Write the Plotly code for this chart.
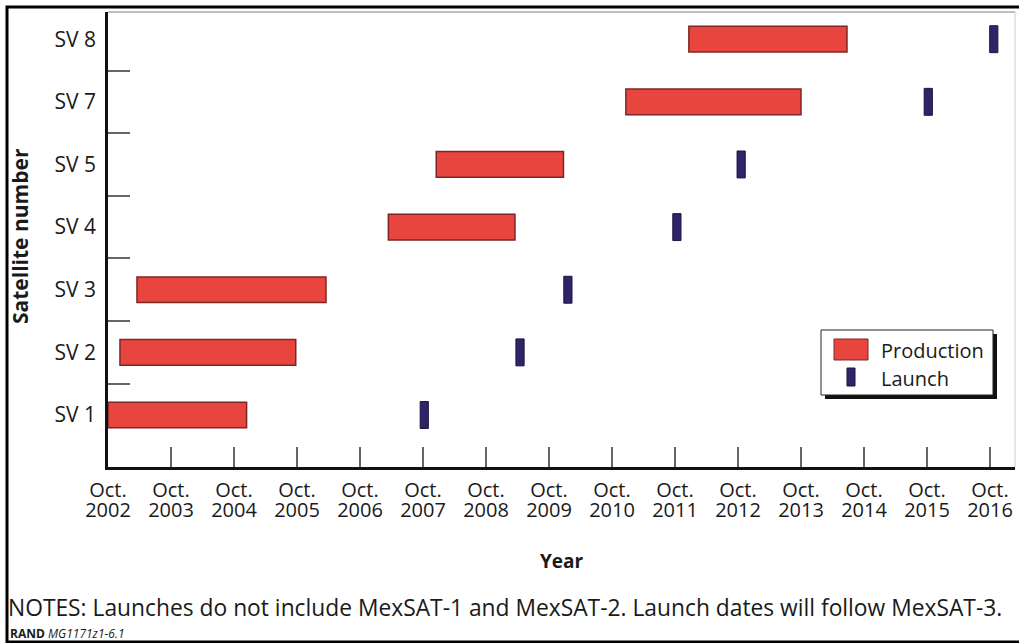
import plotly.graph_objects as go

# ---- data (years as decimal; Oct. = .75) ----
satellites = ["SV 1", "SV 2", "SV 3", "SV 4", "SV 5", "SV 7", "SV 8"]
prod_start = [2002.75, 2002.94, 2003.21, 2007.20, 2007.96, 2010.97, 2011.97]
prod_end = [2004.95, 2005.73, 2006.21, 2009.21, 2009.98, 2013.75, 2014.48]
launch = [2007.77, 2009.29, 2010.05, 2011.78, 2012.80, 2015.77, 2016.81]
tick_years = list(range(2002, 2017))
tick_month = "Oct."

FONT = "Open Sans"
TXT = "#1a1a1a"

ypos = list(range(len(satellites)))
tickx = [y + 0.75 for y in tick_years]
mid_ticks = [p + 0.5 for p in ypos[:-1]]

W, H = 1019, 643
L, R, T, B = 108, 4, 12, 176
pw, ph = W - L - R, H - T - B


def px(xp):
    return (xp - L) / pw


def py(yp):
    return (H - B - yp) / ph


launch_half = 0.065

fig = go.Figure()
fig.add_trace(go.Bar(
    y=ypos, base=prod_start,
    x=[e - s for s, e in zip(prod_start, prod_end)],
    orientation="h", width=0.41,
    marker=dict(color="#e8453e", line=dict(color="#7d2626", width=1.5)),
    name="Production", showlegend=False, hoverinfo="skip"))
fig.add_trace(go.Bar(
    y=ypos, base=[v - launch_half for v in launch],
    x=[2 * launch_half] * len(launch),
    orientation="h", width=0.43,
    marker=dict(color="#2f2468", line=dict(color="#1b1540", width=1)),
    name="Launch", showlegend=False, hoverinfo="skip"))
# invisible trace for overlay axes
fig.add_trace(go.Scatter(x=[None], y=[None], xaxis="x2", yaxis="y2",
                         showlegend=False, hoverinfo="skip"))

xr = [2002.75, 2002.75 + pw / 63.0]
yr = [-0.83, 6.434]

fig.update_layout(
    width=W, height=H,
    margin=dict(l=L, r=R, t=T, b=B),
    paper_bgcolor="white", plot_bgcolor="white",
    font=dict(family=FONT, size=20, color=TXT),
    barmode="overlay",
    xaxis=dict(range=xr, tickvals=tickx, ticktext=[tick_month] * len(tickx),
               ticks="inside", ticklen=20, tickwidth=1.5, tickcolor="#666",
               showline=True, linecolor="#111", linewidth=2.5,
               showgrid=False, zeroline=False, ticklabelstandoff=3,
               tickfont=dict(size=20, color=TXT)),
    xaxis2=dict(range=xr, overlaying="x", anchor="y", side="bottom",
                tickvals=tickx, ticktext=[str(y) for y in tick_years],
                ticks="", showline=False, showgrid=False, zeroline=False,
                ticklabelstandoff=29, tickfont=dict(size=20, color=TXT)),
    yaxis=dict(range=yr, tickvals=ypos, ticktext=satellites, ticks="",
               showline=True, linecolor="#111", linewidth=2.5,
               showgrid=False, zeroline=False, ticklabelstandoff=5,
               tickfont=dict(size=21, color=TXT)),
    yaxis2=dict(range=yr, overlaying="y", anchor="x", side="left",
                tickvals=mid_ticks, ticks="inside", ticklen=22, tickwidth=1.5,
                tickcolor="#666", showticklabels=False, showline=False,
                showgrid=False, zeroline=False),
)

shapes = []
# plot frame top/right (grey)
shapes.append(dict(type="line", xref="paper", yref="paper", x0=0, x1=1, y0=1, y1=1,
                   line=dict(color="#aaaaaa", width=1.5)))
shapes.append(dict(type="line", xref="paper", yref="paper", x0=1, x1=1, y0=0, y1=1,
                   line=dict(color="#cccccc", width=1)))
# outer frame
shapes.append(dict(type="rect", xref="paper", yref="paper",
                   x0=px(7), x1=px(1030), y0=py(642), y1=py(7),
                   line=dict(color="#000", width=3), layer="above"))
# legend box shadow + box
shapes.append(dict(type="rect", xref="paper", yref="paper",
                   x0=px(825), x1=px(997), y0=py(399), y1=py(334),
                   fillcolor="#111", line=dict(width=0)))
shapes.append(dict(type="rect", xref="paper", yref="paper",
                   x0=px(821), x1=px(993), y0=py(395), y1=py(330),
                   fillcolor="white", line=dict(color="#222", width=1)))
# legend swatches
shapes.append(dict(type="rect", xref="paper", yref="paper",
                   x0=px(834), x1=px(868), y0=py(360), y1=py(339),
                   fillcolor="#e8453e", line=dict(color="#7d2626", width=1)))
shapes.append(dict(type="rect", xref="paper", yref="paper",
                   x0=px(847), x1=px(855), y0=py(386), y1=py(368),
                   fillcolor="#2f2468", line=dict(color="#1b1540", width=1)))
fig.update_layout(shapes=shapes)

ann = [
    dict(text="Production", x=px(879), y=py(350), xanchor="left", yanchor="middle",
         font=dict(size=20, color=TXT)),
    dict(text="Launch", x=px(879), y=py(378), xanchor="left", yanchor="middle",
         font=dict(size=20, color=TXT)),
    dict(text="<b>Year</b>", x=0.5, y=py(561), xanchor="center", yanchor="middle",
         font=dict(size=19, color=TXT)),
    dict(text="<b>Satellite number</b>", x=px(20), y=py(236), textangle=-90,
         xanchor="center", yanchor="middle", font=dict(size=21, color=TXT)),
    dict(text="NOTES: Launches do not include MexSAT-1 and MexSAT-2. Launch dates will follow MexSAT-3.",
         x=px(6), y=py(607), xanchor="left", yanchor="middle",
         font=dict(size=22.8, color=TXT)),
    dict(text="<b>RAND</b> <i>MG1171z1-6.1</i>", x=px(8), y=py(633),
         xanchor="left", yanchor="middle", font=dict(size=12, color=TXT)),
]
for a in ann:
    a.update(xref="paper", yref="paper", showarrow=False)
fig.update_layout(annotations=ann)

fig.write_html("out.html", config={"displayModeBar": False},
               post_script="document.body.style.margin='0px';document.body.style.padding='0px';")
